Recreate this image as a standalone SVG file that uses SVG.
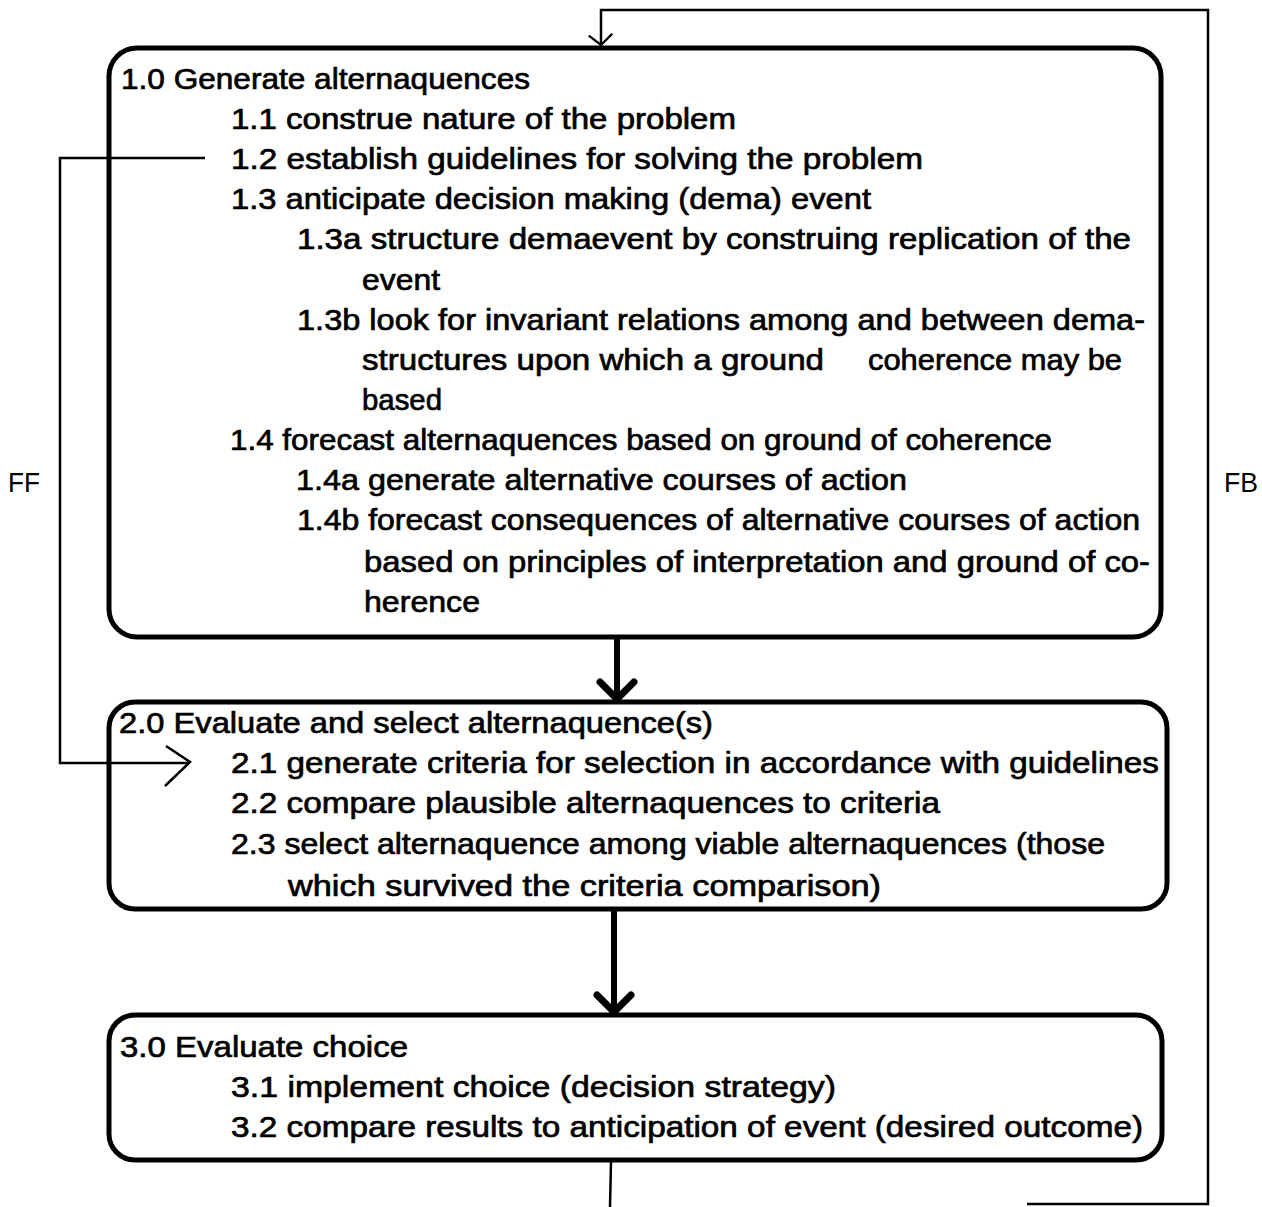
<svg xmlns="http://www.w3.org/2000/svg" width="1262" height="1207" viewBox="0 0 1262 1207">
<defs>
<style>
.box{fill:none;stroke:#000;stroke-width:5}
.t{font-family:"Liberation Sans",Arial,sans-serif;font-size:30px;fill:#000;stroke:#000;stroke-width:0.7}
.lbl{font-family:"Liberation Sans",Arial,sans-serif;font-size:28px;fill:#000}
.thick{fill:none;stroke:#000;stroke-width:6;stroke-linecap:round;stroke-linejoin:round}
.thin{fill:none;stroke:#000;stroke-width:2.5;stroke-linecap:butt;stroke-linejoin:miter}
</style>
<marker id="vhead" markerUnits="userSpaceOnUse" markerWidth="40" markerHeight="40" viewBox="-22 -20 26 40" refX="0" refY="0" orient="auto" overflow="visible">
<path d="M-17,-17 L0,0 L-17,17" fill="none" stroke="#000" stroke-width="7" stroke-linecap="round" stroke-linejoin="round"/>
</marker>
<marker id="thinhead" markerUnits="userSpaceOnUse" markerWidth="30" markerHeight="30" viewBox="-16 -16 20 32" refX="0" refY="0" orient="auto" overflow="visible">
<path d="M-12,-12 L0,0 L-10,13" fill="none" stroke="#000" stroke-width="2.5"/>
</marker>
</defs>
<rect width="1262" height="1207" fill="#fff"/>

<g id="connectors">
<!-- 1 to 2 -->
<line class="thick" x1="617" y1="639" x2="617" y2="699" marker-end="url(#vhead)"/>
<!-- 2 to 3 -->
<line class="thick" x1="614" y1="911" x2="614" y2="1012" marker-end="url(#vhead)"/>
<!-- FB loop -->
<polyline class="thin" points="611,1162 610,1207"/>
<polyline class="thin" points="1027,1204 1208,1204 1208,10 601,10 601,45" marker-end="url(#thinhead)"/>
<!-- FF -->
<polyline class="thin" points="205,158 60,158 60,763 188,763"/>
<path class="thin" d="M166,746 L190,762 L165,786"/>
<text class="lbl" x="8" y="492" textLength="32" lengthAdjust="spacingAndGlyphs">FF</text>
<text class="lbl" x="1224" y="492" textLength="34" lengthAdjust="spacingAndGlyphs">FB</text>
</g>

<g id="node1">
<rect class="box" x="109" y="48" width="1052" height="589" rx="28" ry="28"/>
<text class="t" x="121" y="89" textLength="409" lengthAdjust="spacingAndGlyphs">1.0 Generate alternaquences</text>
<text class="t" x="231" y="129" textLength="505" lengthAdjust="spacingAndGlyphs">1.1 construe nature of the problem</text>
<text class="t" x="231" y="169" textLength="692" lengthAdjust="spacingAndGlyphs">1.2 establish guidelines for solving the problem</text>
<text class="t" x="231" y="209" textLength="640" lengthAdjust="spacingAndGlyphs">1.3 anticipate decision making (dema) event</text>
<text class="t" x="297" y="249" textLength="834" lengthAdjust="spacingAndGlyphs">1.3a structure demaevent by construing replication of the</text>
<text class="t" x="362" y="290" textLength="78" lengthAdjust="spacingAndGlyphs">event</text>
<text class="t" x="297" y="330" textLength="848" lengthAdjust="spacingAndGlyphs">1.3b look for invariant relations among and between dema-</text>
<text class="t" x="362" y="370" textLength="462" lengthAdjust="spacingAndGlyphs">structures upon which a ground</text>
<text class="t" x="868" y="370" textLength="254" lengthAdjust="spacingAndGlyphs">coherence may be</text>
<text class="t" x="362" y="410" textLength="80" lengthAdjust="spacingAndGlyphs">based</text>
<text class="t" x="230" y="450" textLength="822" lengthAdjust="spacingAndGlyphs">1.4 forecast alternaquences based on ground of coherence</text>
<text class="t" x="296" y="490" textLength="611" lengthAdjust="spacingAndGlyphs">1.4a generate alternative courses of action</text>
<text class="t" x="297" y="530" textLength="843" lengthAdjust="spacingAndGlyphs">1.4b forecast consequences of alternative courses of action</text>
<text class="t" x="364" y="572" textLength="786" lengthAdjust="spacingAndGlyphs">based on principles of interpretation and ground of co-</text>
<text class="t" x="364" y="612" textLength="116" lengthAdjust="spacingAndGlyphs">herence</text>
</g>

<g id="node2">
<rect class="box" x="109" y="702" width="1058" height="207" rx="26" ry="26"/>
<text class="t" x="119" y="733" textLength="594" lengthAdjust="spacingAndGlyphs">2.0 Evaluate and select alternaquence(s)</text>
<text class="t" x="231" y="773" textLength="928" lengthAdjust="spacingAndGlyphs">2.1 generate criteria for selection in accordance with guidelines</text>
<text class="t" x="231" y="813" textLength="709" lengthAdjust="spacingAndGlyphs">2.2 compare plausible alternaquences to criteria</text>
<text class="t" x="231" y="854" textLength="874" lengthAdjust="spacingAndGlyphs">2.3 select alternaquence among viable alternaquences (those</text>
<text class="t" x="288" y="896" textLength="593" lengthAdjust="spacingAndGlyphs">which survived the criteria comparison)</text>
</g>

<g id="node3">
<rect class="box" x="109" y="1015" width="1053" height="145" rx="26" ry="26"/>
<text class="t" x="120" y="1057" textLength="288" lengthAdjust="spacingAndGlyphs">3.0 Evaluate choice</text>
<text class="t" x="231" y="1097" textLength="605" lengthAdjust="spacingAndGlyphs">3.1 implement choice (decision strategy)</text>
<text class="t" x="231" y="1137" textLength="912" lengthAdjust="spacingAndGlyphs">3.2 compare results to anticipation of event (desired outcome)</text>
</g>
</svg>
